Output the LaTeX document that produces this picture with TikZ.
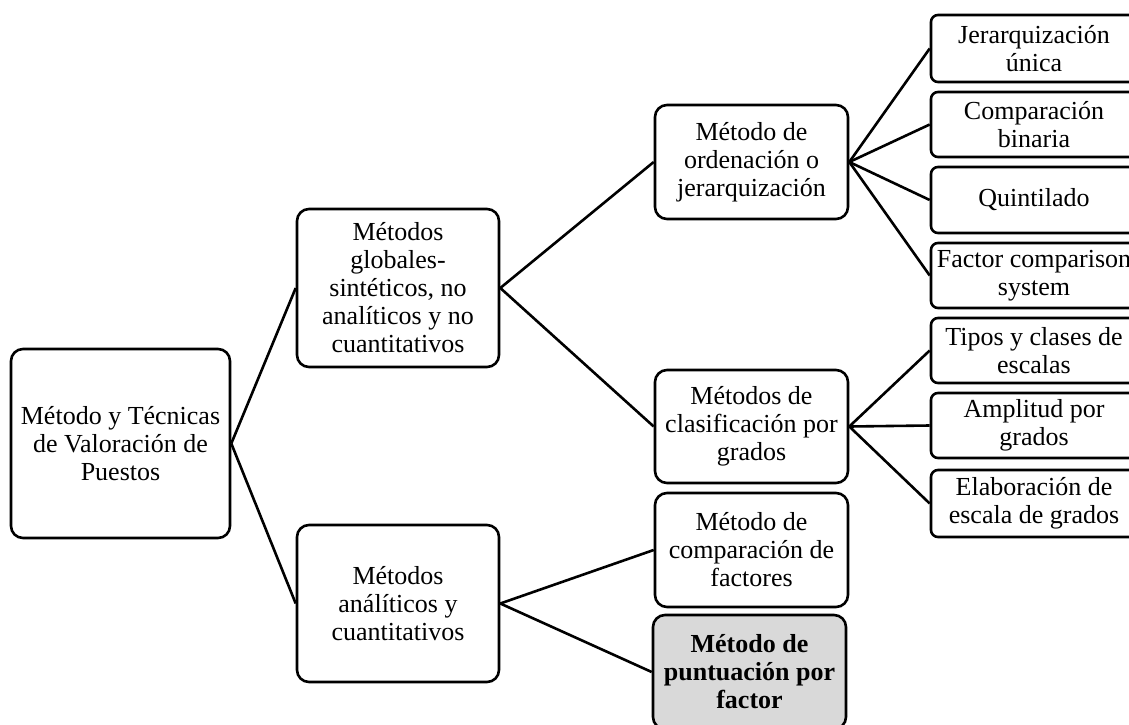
\documentclass[tikz,border=0pt]{standalone}
\usepackage{fontspec}
\setmainfont{Liberation Serif}
\definecolor{boxgray}{HTML}{D9D9D9}
\begin{document}
\begin{tikzpicture}[x=1pt,y=-1pt,
  box/.style={draw, line width=2.6pt, rounded corners=12pt, align=center, inner sep=0pt, fill=white,
              font=\fontsize{26}{28}\selectfont},
  leaf/.style={box, rounded corners=7pt, minimum width=206pt},
  mid/.style={box, minimum width=193pt, minimum height=114pt},
  link/.style={line width=2.6pt}]
\useasboundingbox (0,0) rectangle (1129,725);
\clip (0,0) rectangle (1129,725);
% root and level 1
\node[box, minimum width=219pt, minimum height=189pt] (root) at (120.5,443.5) {Método y Técnicas\\de Valoración de\\Puestos};
\node[box, minimum width=202pt, minimum height=158pt] (glob) at (398,288) {Métodos\\globales-\\sintéticos, no\\analíticos y no\\cuantitativos};
\node[box, minimum width=202pt, minimum height=157pt] (anal) at (398,603.5) {Métodos\\análíticos y\\cuantitativos};
% level 2
\node[mid] (orden) at (751.5,162) {Método de\\ordenación o\\jerarquización};
\node[mid, minimum height=113pt] (clasif) at (751.5,426.5) {Métodos de\\clasificación por\\grados};
\node[mid] (compf) at (751.5,550) {Método de\\comparación de\\factores};
\node[mid, fill=boxgray, font=\fontsize{26}{28}\selectfont\bfseries] (punt) at (749.5,672) {Método de\\puntuación por\\factor};
% level 3
\node[leaf, minimum height=67pt] (r1) at (1034,48.5) {Jerarquización\\única};
\node[leaf, minimum height=65pt] (r2) at (1034,124.5) {Comparación\\binaria};
\node[leaf, minimum height=66pt] (r3) at (1034,200) {Quintilado};
\node[leaf, minimum height=65pt] (r4) at (1034,275.5) {\makebox[0pt]{Factor comparison}\\system};
\node[leaf, minimum height=65pt] (r5) at (1034,350.5) {\makebox[0pt]{Tipos y clases de}\\escalas};
\node[leaf, minimum height=65pt] (r6) at (1034,425.5) {Amplitud por\\grados};
\node[leaf, minimum height=67pt] (r7) at (1034,503.5) {\makebox[0pt]{Elaboración de}\\\makebox[0pt]{escala de grados}};
% connectors
\draw[link] (root.east) -- (glob.west);
\draw[link] (root.east) -- (anal.west);
\draw[link] (glob.east) -- (orden.west);
\draw[link] (glob.east) -- (clasif.west);
\draw[link] (anal.east) -- (compf.west);
\draw[link] (anal.east) -- (punt.west);
\foreach \r in {r1,r2,r3,r4} \draw[link] (orden.east) -- (\r.west);
\foreach \r in {r5,r6,r7} \draw[link] (clasif.east) -- (\r.west);
\end{tikzpicture}
\end{document}
